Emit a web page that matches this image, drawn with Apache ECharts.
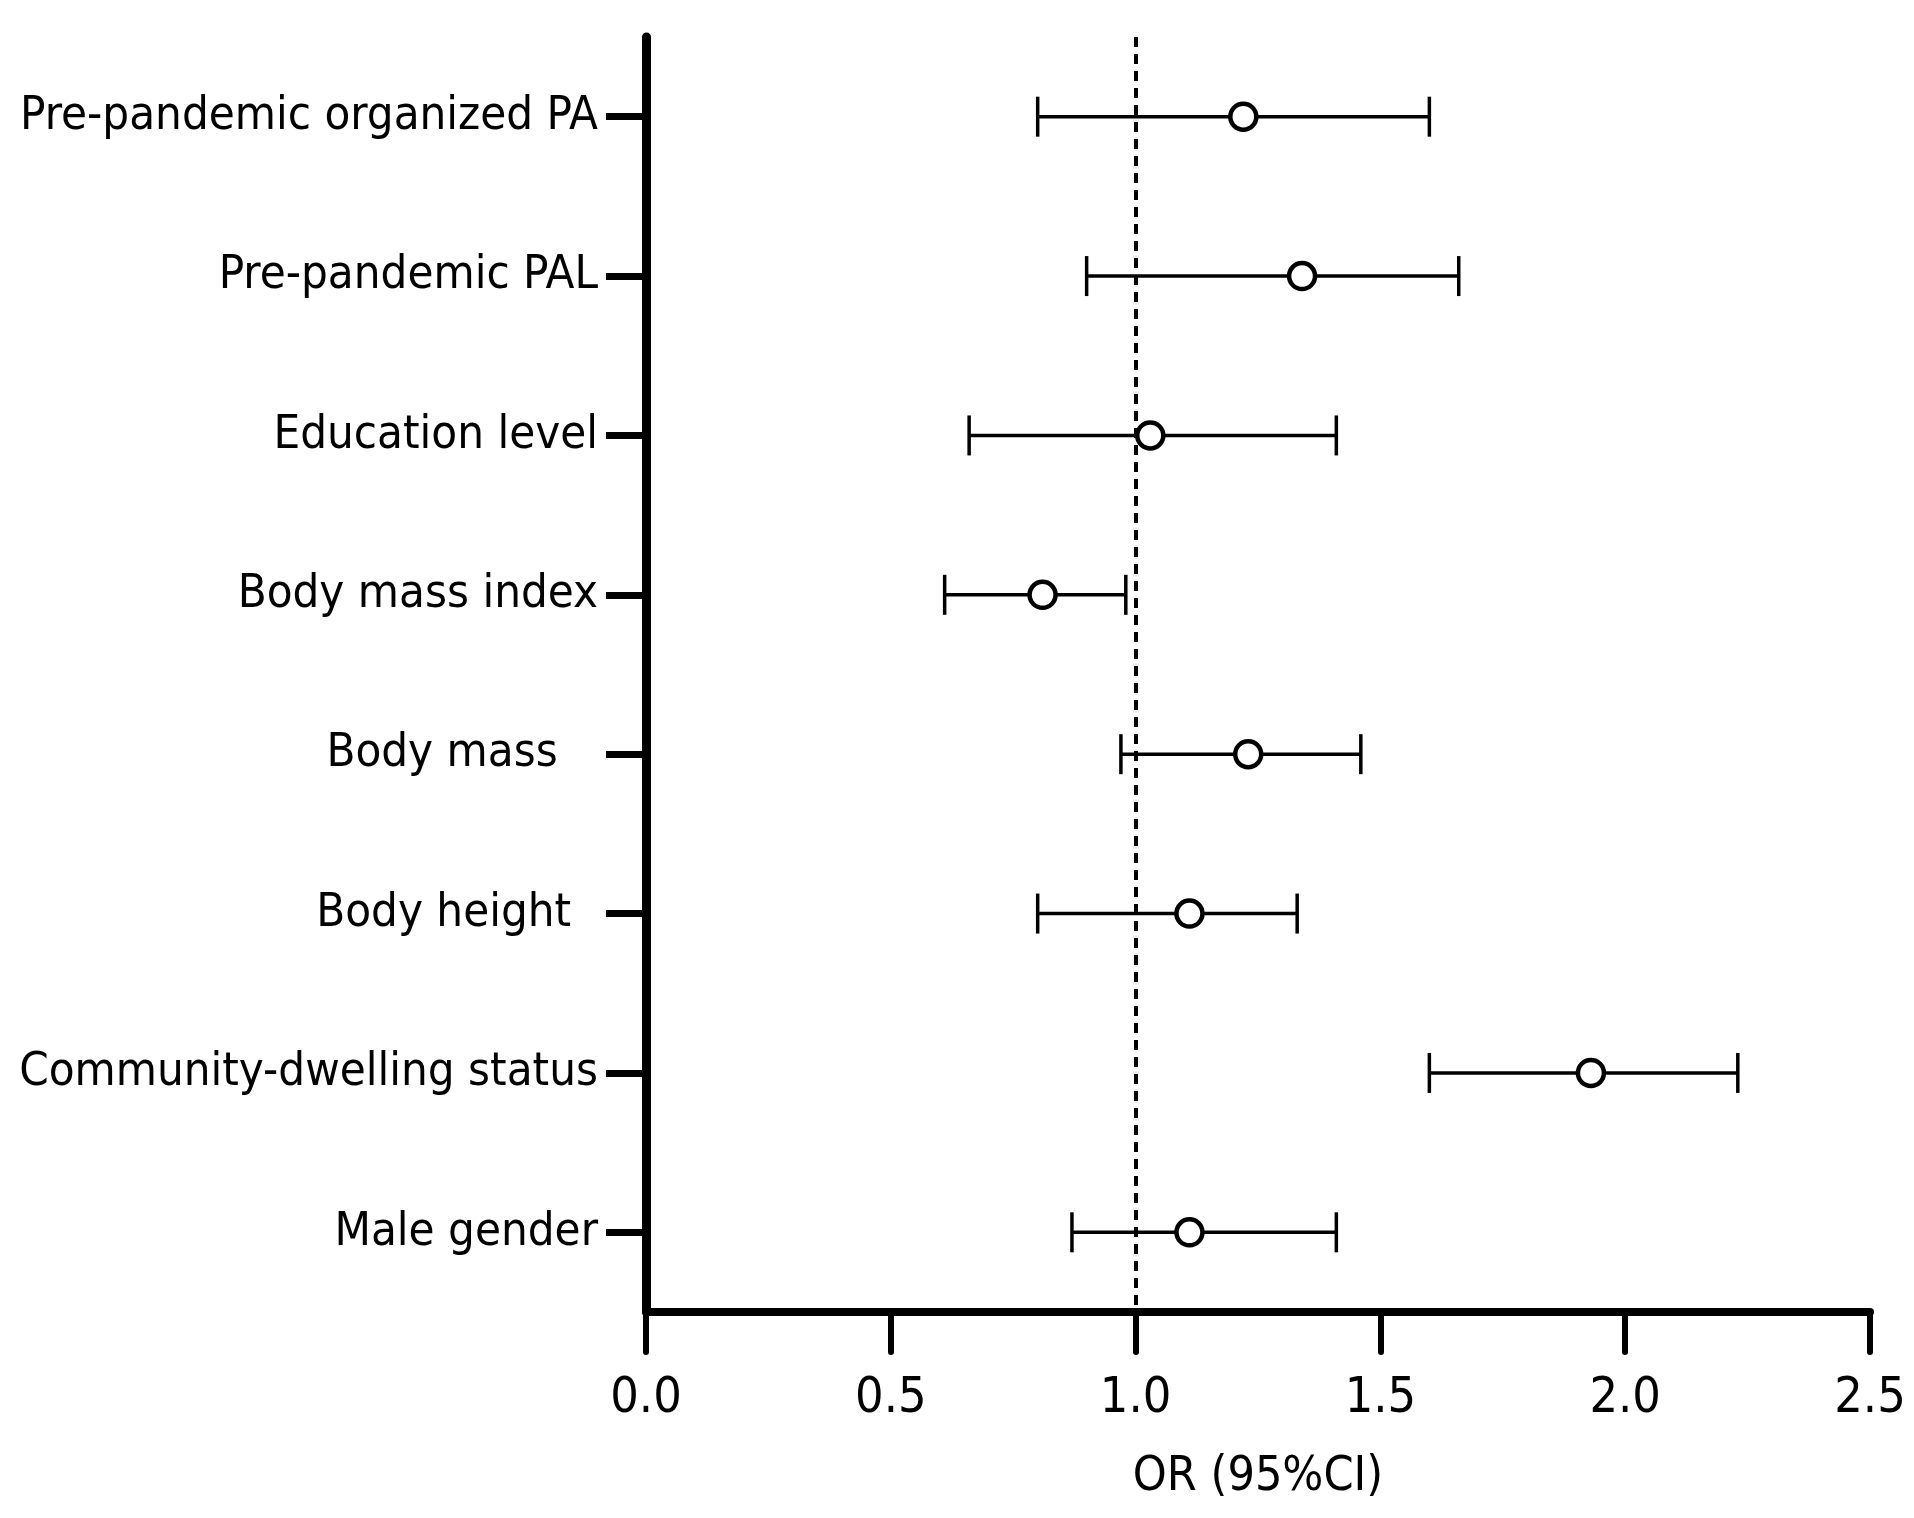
<!DOCTYPE html>
<html>
<head>
<meta charset="utf-8">
<title>OR (95%CI)</title>
<script src="https://cdn.jsdelivr.net/npm/echarts@6/dist/echarts.min.js"></script>
<style>
	html,body{margin:0;padding:0;background:#fff;}
	#myChart1{width:1914px;height:1518px;}
</style>
</head>
<body>
<div id="myChart1"></div>
<script>
// data (top row first)
var categories = ['Pre-pandemic organized PA','Pre-pandemic PAL','Education level','Body mass index','Body mass   ','Body height  ','Community-dwelling status','Male gender'];
var orValues = [1.22, 1.34, 1.03, 0.81, 1.23, 1.11, 1.93, 1.11];
var ciLow = [0.80, 0.90, 0.66, 0.61, 0.97, 0.80, 1.60, 0.87];
var ciHigh = [1.60, 1.66, 1.41, 0.98, 1.46, 1.33, 2.23, 1.41];
var refLine = 1;
var xMin = 0, xMax = 2.5, xStep = 0.5;

var FONT = "'Liberation Sans Narrow', 'Arial Narrow', 'DejaVu Sans Condensed', sans-serif";

var ciData = categories.map(function(c, i){ return [i, ciLow[i], ciHigh[i]]; });
var orData = categories.map(function(c, i){ return [orValues[i], i]; });

//误差线 + 端帽
function renderCI(params, api){
	var y = api.value(0),
		a = api.coord([api.value(1), y]),
		b = api.coord([api.value(2), y]),
		cap = 20,
		st = {stroke:'#000', lineWidth:3.5};
	return {
		type:'group',
		children:[
			{type:'line', shape:{x1:a[0], y1:a[1], x2:b[0], y2:b[1]}, style:st},
			{type:'line', shape:{x1:a[0], y1:a[1]-cap, x2:a[0], y2:a[1]+cap}, style:st},
			{type:'line', shape:{x1:b[0], y1:b[1]-cap, x2:b[0], y2:b[1]+cap}, style:st}
		]
	};
}

var myChart1 = echarts.init(document.getElementById('myChart1'));
myChart1.setOption({
	animation: false,
	backgroundColor: '#fff',
	grid: {
		left: 646,
		top: 37,
		width: 1224,
		height: 1275,
		containLabel: false,
		outerBoundsMode: 'none'
	},
	xAxis: {
		type: 'value',
		min: xMin,
		max: xMax,
		interval: xStep,
		name: 'OR (95%CI)',
		nameLocation: 'middle',
		nameGap: 142,
		nameTextStyle: {fontFamily: FONT, fontSize: 48, color: '#000'},
		axisLine: {show: true, onZero: false, lineStyle: {color: '#000', width: 8, cap: 'round'}},
		axisTick: {show: true, length: 40, lineStyle: {color: '#000', width: 6, cap: 'round'}},
		axisLabel: {
			margin: 62,
			fontFamily: FONT,
			fontSize: 50,
			color: '#000',
			formatter: function(v){ return v.toFixed(1); }
		},
		splitLine: {show: false}
	},
	yAxis: {
		type: 'category',
		data: categories,
		inverse: true,
		axisLine: {show: true, lineStyle: {color: '#000', width: 9, cap: 'round'}},
		axisTick: {show: true, alignWithLabel: true, length: 40, lineStyle: {color: '#000', width: 7}},
		axisLabel: {
			margin: 48,
			fontFamily: FONT,
			fontSize: 47,
			color: '#000'
		},
		splitLine: {show: false}
	},
	series: [
		{
			type: 'custom',
			renderItem: renderCI,
			encode: {x: [1, 2], y: 0},
			data: ciData,
			z: 2
		},
		{
			type: 'scatter',
			data: orData,
			symbol: 'circle',
			symbolSize: 26,
			itemStyle: {color: '#fff', borderColor: '#000', borderWidth: 4.5, opacity: 1},
			z: 3,
			markLine: {
				silent: true,
				symbol: 'none',
				label: {show: false},
				lineStyle: {color: '#000', width: 4, type: [10, 7]},
				data: [{xAxis: refLine}]
			}
		}
	]
});
</script>
</body>
</html>
